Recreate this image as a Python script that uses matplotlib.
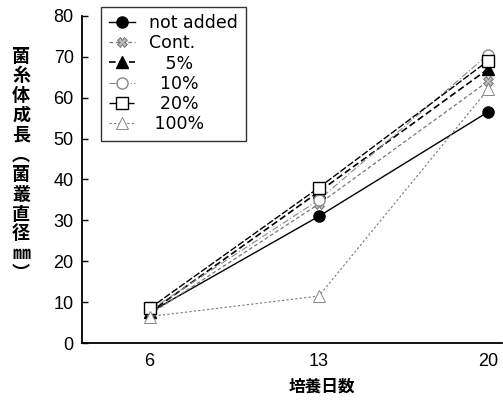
import matplotlib
matplotlib.use("Agg")
import matplotlib.pyplot as plt
from matplotlib import font_manager

# narrow font if available, like the scanned original
names = {f.name for f in font_manager.fontManager.ttflist}
tick_font = 'Liberation Sans Narrow' if 'Liberation Sans Narrow' in names else 'Liberation Sans'
plt.rcParams['font.family'] = [tick_font, 'DejaVu Sans']

days = [6, 13, 20]
day_labels = ['6', '13', '20']

not_added = [7.5, 31.0, 56.5]
cont = [7.0, 34.0, 64.0]
p5 = [7.5, 37.0, 67.0]
p10 = [8.0, 35.0, 70.5]
p20 = [8.5, 38.0, 69.0]
p100 = [6.5, 11.5, 62.0]

series_labels = ['not added', 'Cont.', '   5%', '  10%', '  20%', ' 100%']
y_ticks = [0, 10, 20, 30, 40, 50, 60, 70, 80]

fig = plt.figure(figsize=(5.03, 4.07), dpi=100)
ax = fig.add_axes([0.163, 0.157, 0.836, 0.804])

ax.plot(days, not_added, color='black', lw=1.0, ls='-', marker='o', ms=8,
        mfc='black', mec='black', label=series_labels[0])
ax.plot(days, cont, color='#777777', lw=0.9, ls=(0, (3, 2)), marker='X', ms=7,
        mfc='#bbbbbb', mec='#666666', mew=0.6, label=series_labels[1])
ax.plot(days, p5, color='black', lw=1.2, ls=(0, (4, 2)), marker='^', ms=8,
        mfc='black', mec='black', label=series_labels[2])
ax.plot(days, p10, color='#888888', lw=0.8, ls=(0, (6, 2, 1, 2)), marker='o', ms=8,
        mfc='white', mec='#888888', label=series_labels[3])
ax.plot(days, p20, color='black', lw=1.0, ls=(0, (5, 1.5)), marker='s', ms=9,
        mfc='white', mec='black', label=series_labels[4])
ax.plot(days, p100, color='#777777', lw=0.8, ls=(0, (2, 2)), marker='^', ms=9,
        mfc='white', mec='#888888', mew=0.7, label=series_labels[5])

ax.set_xlim(3.2, 20.6)
ax.set_ylim(0, 80)
ax.set_xticks(days)
ax.set_xticklabels(day_labels)
ax.set_yticks(y_ticks)
ax.tick_params(axis='x', length=0, pad=7, labelsize=13)
ax.tick_params(axis='y', direction='in', length=4, width=1, labelsize=13, pad=6)
ax.spines['top'].set_visible(False)
ax.spines['right'].set_visible(False)
ax.spines['left'].set_linewidth(1.3)
ax.spines['bottom'].set_linewidth(1.3)

leg = ax.legend(loc='upper left', bbox_to_anchor=(0.025, 1.055), frameon=True,
                fancybox=False, edgecolor='black', fontsize=12.5, handlelength=1.5,
                handletextpad=0.8, labelspacing=0.12, borderpad=0.45)
leg.get_frame().set_linewidth(1.0)
for t in leg.get_texts():
    t.set_family(['DejaVu Sans'])

jp = ['Noto Sans CJK JP', 'DejaVu Sans']
ylabel = list('菌糸体成長') + ['\ufe35'] + list('菌叢直径') + ['㎜', '\ufe36']
fig.text(0.042, 0.595, '\n'.join(ylabel), ha='center', va='center', fontsize=13,
         linespacing=1.05, family=jp, fontweight='bold')
fig.text(0.64, 0.05, '培養日数', ha='center', va='center', fontsize=12,
         family=jp, fontweight='bold')

fig.savefig('out.png', dpi=100)
